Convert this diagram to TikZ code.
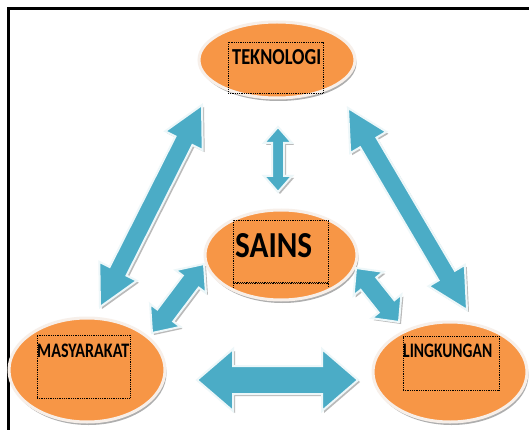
\documentclass[tikz,border=0pt]{standalone}
\usepackage{fontspec}
\setmainfont{Carlito}
\usetikzlibrary{calc,shapes.geometric,shadows}
\definecolor{orng}{HTML}{F79646}
\definecolor{aqua}{HTML}{4BACC6}
\definecolor{rim}{HTML}{F7EFE9}
\tikzset{
 bubble/.style={ellipse, fill=orng, draw=rim, line width=3pt, inner sep=0pt,
   drop shadow={shadow xshift=1.5pt, shadow yshift=-3pt, fill=black!45, opacity=0.7}},
 blk/.style={fill=aqua, draw=white!90!aqua, line width=2pt, line join=miter,
   drop shadow={shadow xshift=2pt, shadow yshift=-2pt, fill=black!45, opacity=0.6}},
 dotbox/.style={draw=black, densely dotted, line width=0.8pt, inner sep=0pt},
 lbl/.style={inner sep=0pt, anchor=base west, font=\bfseries}
}
\newcommand\blockarr[5]{%
 \coordinate (ha) at ($(#1)!#5!(#2)$);
 \coordinate (hb) at ($(#2)!#5!(#1)$);
 \path[blk] (#1) -- ($(ha)!#4!90:(#2)$) -- ($(ha)!#3!90:(#2)$)
   -- ($(hb)!#3!-90:(#1)$) -- ($(hb)!#4!-90:(#1)$) -- (#2)
   -- ($(hb)!#4!90:(#1)$) -- ($(hb)!#3!90:(#1)$)
   -- ($(ha)!#3!-90:(#2)$) -- ($(ha)!#4!-90:(#2)$) -- cycle;}
\begin{document}
\begin{tikzpicture}[x=1pt,y=-1pt]
\useasboundingbox[fill=white] (0,0) rectangle (529,430);
\draw[line width=2.6pt] (8.5,440) -- (8.5,8.5) -- (540,8.5);
% ellipses
\node[bubble, minimum width=156pt, minimum height=76pt] (tek) at (277,60) {};
\node[bubble, minimum width=152pt, minimum height=90pt] (sains) at (281,255) {};
\node[bubble, minimum width=156pt, minimum height=104pt] (masy) at (87,370) {};
\node[bubble, minimum width=154pt, minimum height=100pt] (ling) at (450,372) {};
% dotted text boxes
\node[dotbox, minimum width=95pt, minimum height=51pt] (tekbox) at (275.5,67.5) {};
\node[dotbox, minimum width=95pt, minimum height=62pt] (sainsbox) at (280.5,251) {};
\begin{scope}
 \clip (sains.center) ellipse [x radius=74pt, y radius=43pt];
 \node[dotbox, minimum width=95pt, minimum height=60pt] (sainsbox2) at (280.5,313) {};
\end{scope}
\node[dotbox, minimum width=93pt, minimum height=63pt] (masybox) at (83.5,366.5) {};
\node[dotbox, minimum width=96pt, minimum height=54pt] (lingbox) at (451,363) {};
% labels
\node[lbl] (tekt) at (232,65) {\resizebox{89pt}{15pt}{TEKNOLOGI}};
\node[lbl] (sainst) at (235,257) {\resizebox{77pt}{24pt}{SAINS}};
\node[lbl] (masyt) at (37,357) {\resizebox{92pt}{13.5pt}{MASYARAKAT}};
\node[lbl] (lingt) at (403,357) {\resizebox{89pt}{13.5pt}{LINGKUNGAN}};
% arrow end points
\coordinate (a1) at (202,105); \coordinate (a2) at (100,307);
\coordinate (b1) at (348,108); \coordinate (b2) at (467,310);
\coordinate (c1) at (278,127); \coordinate (c2) at (278,192);
\coordinate (d1) at (204,264); \coordinate (d2) at (152,333);
\coordinate (e1) at (356,268); \coordinate (e2) at (399,322);
\coordinate (f1) at (197,380); \coordinate (f2) at (358,380);
\blockarr{a1}{a2}{9.5pt}{21pt}{40pt}
\blockarr{b1}{b2}{9.5pt}{21pt}{40pt}
\blockarr{c1}{c2}{6pt}{14pt}{16pt}
\blockarr{d1}{d2}{10pt}{19pt}{22pt}
\blockarr{e1}{e2}{10pt}{19pt}{20pt}
\blockarr{f1}{f2}{14pt}{31pt}{36pt}
\end{tikzpicture}
\end{document}
